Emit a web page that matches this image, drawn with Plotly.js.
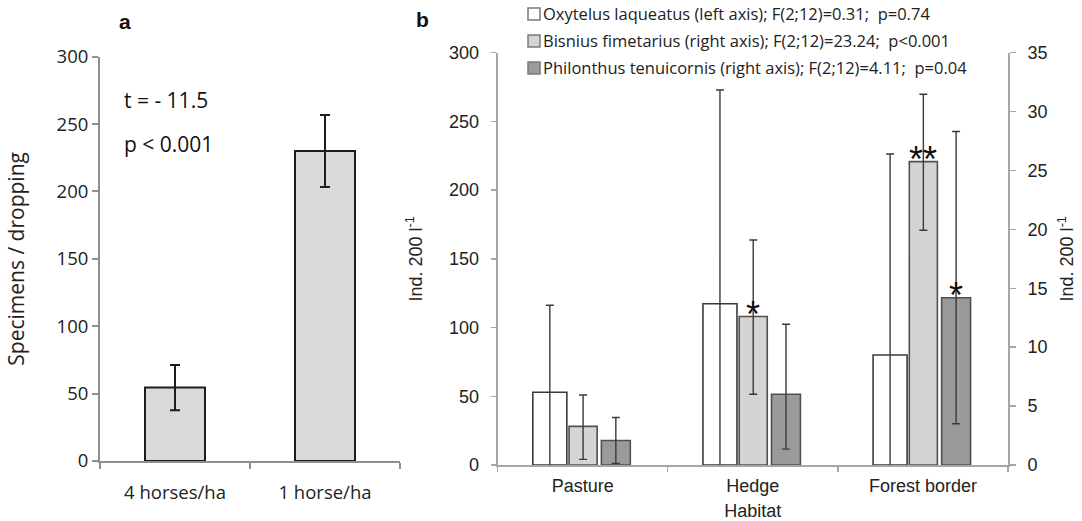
<!DOCTYPE html>
<html>
<head>
<meta charset="utf-8">
<script src="https://cdn.plot.ly/plotly-3.0.1.min.js"></script>
<style>html,body{margin:0;padding:0;background:#fff;}#chart{width:1082px;height:521px;}</style>
</head>
<body>
<div id="chart"></div>
<script>
// ---- Panel a data ----
const aCategories = ["4 horses/ha", "1 horse/ha"];
const aValues = [54.5, 230];
const aErrors = [16.8, 26.7];
const aTickVals = [0, 50, 100, 150, 200, 250, 300];
const aStats = ["t = - 11.5", "p < 0.001"];

// ---- Panel b data ----
const bCategories = ["Pasture", "Hedge", "Forest border"];
const oxytelus = [52.9, 117.3, 80.0];          // left axis
const oxytelusErrPlus = [63.3, 155.5, 146.2];
const oxytelusErrMinus = [63.3, 155.5, 146.2];
const bisnius = [3.28, 12.6, 25.75];           // right axis
const bisniusErrPlus = [2.66, 6.5, 5.72];
const bisniusErrMinus = [2.8, 6.6, 5.83];
const philonthus = [2.08, 6.0, 14.2];          // right axis
const philonthusErrPlus = [1.95, 5.95, 14.1];
const philonthusErrMinus = [1.95, 4.65, 10.7];
const bLegend = [
  "Oxytelus laqueatus (left axis); F(2;12)=0.31;  p=0.74",
  "Bisnius fimetarius (right axis); F(2;12)=23.24;  p<0.001",
  "Philonthus tenuicornis (right axis); F(2;12)=4.11;  p=0.04"
];
const bisniusStars = ["", "*", "**"];
const philonthusStars = ["", "", "*"];

// ---- styles ----
const W = 1082, H = 521;
const px = v => v / W, py = v => (H - v) / H;
const bColors = ["#ffffff", "#d4d4d4", "#9a9a9a"];
const bOffsets = [-0.293, -0.08, 0.11];
const bWidths = [0.2, 0.165, 0.17];
const fontA = "Open Sans, sans-serif";
const fontB = "Liberation Sans, Arial, sans-serif";
const legendRowY = i => 14 + 27 * i;

const traces = [];
traces.push({
  type: "bar", x: aCategories, y: aValues, xaxis: "x", yaxis: "y",
  width: 0.4,
  marker: {color: "#d9d9d9", line: {color: "#1c1c1c", width: 2}},
  error_y: {type: "data", array: aErrors, visible: true, color: "#1c1c1c", thickness: 2, width: 5},
  showlegend: false, hoverinfo: "skip"
});
const bSeries = [
  [oxytelus, oxytelusErrPlus, oxytelusErrMinus, "y2"],
  [bisnius, bisniusErrPlus, bisniusErrMinus, "y3"],
  [philonthus, philonthusErrPlus, philonthusErrMinus, "y3"]
];
bSeries.forEach((s, i) => {
  traces.push({
    type: "bar", x: bCategories, y: s[0], xaxis: "x2", yaxis: s[3],
    offset: bOffsets[i], width: bWidths[i],
    marker: {color: bColors[i], line: {color: i === 0 ? "#3a3a3a" : "#505050", width: 1.6}},
    error_y: {type: "data", symmetric: false, array: s[1], arrayminus: s[2], visible: true,
              color: "#3a3a3a", thickness: 1.4, width: 4},
    showlegend: false, hoverinfo: "skip", cliponaxis: true
  });
});

const annotations = [];
annotations.push({xref: "paper", yref: "paper", x: px(125), y: py(22), text: "<b>a</b>", showarrow: false,
  font: {family: "Liberation Sans, Arial", size: 21, color: "#111"}, xanchor: "center", yanchor: "middle"});
annotations.push({xref: "paper", yref: "paper", x: px(422), y: py(19), text: "<b>b</b>", showarrow: false,
  font: {family: "Liberation Sans, Arial", size: 21, color: "#111"}, xanchor: "center", yanchor: "middle"});
aStats.forEach((t, i) => {
  annotations.push({xref: "paper", yref: "paper", x: px(122), y: py(100 + 44 * i), text: t, showarrow: false,
    font: {family: fontA, size: 21, color: "#111"}, xanchor: "left", yanchor: "middle"});
});
bLegend.forEach((t, i) => {
  annotations.push({xref: "paper", yref: "paper", x: px(541), y: py(legendRowY(i)), text: t, showarrow: false,
    font: {family: fontA, size: 16.5, color: "#222"}, xanchor: "left", yanchor: "middle"});
});
function stars(arr, series, idx) {
  arr.forEach((t, k) => {
    if (!t) return;
    annotations.push({xref: "x2", yref: "y3", x: k + bOffsets[idx] + bWidths[idx] / 2, y: series[k],
      text: t, showarrow: false, font: {family: fontB, size: 36, color: "#111"},
      xanchor: "center", yanchor: "bottom", yshift: -20});
  });
}
stars(bisniusStars, bisnius, 1);
stars(philonthusStars, philonthus, 2);

const shapes = bColors.map((c, i) => ({
  type: "rect", xref: "paper", yref: "paper",
  x0: px(528), x1: px(540), y0: py(legendRowY(i) + 6), y1: py(legendRowY(i) - 6),
  fillcolor: c, line: {color: "#7a7a7a", width: 1.5}
}));

const layout = {
  width: W, height: H,
  margin: {l: 0, r: 0, t: 0, b: 0},
  paper_bgcolor: "#fff", plot_bgcolor: "rgba(0,0,0,0)",
  barmode: "overlay",
  showlegend: false,
  xaxis: {domain: [px(100), px(400)], anchor: "y", type: "category", range: [-0.5, 1.5],
    showline: true, linecolor: "#8f8f8f", linewidth: 2, ticks: "outside", tickson: "boundaries",
    ticklen: 6, tickcolor: "#8f8f8f", tickwidth: 2, showgrid: false, zeroline: false,
    ticklabelstandoff: 14,
    tickfont: {family: fontA, size: 18.5, color: "#222"}, fixedrange: true},
  yaxis: {domain: [(H - 461) / H, (H - 56.7) / H], anchor: "x", range: [0, 300], tickvals: aTickVals,
    showline: true, linecolor: "#8f8f8f", linewidth: 2, ticks: "outside", ticklen: 6,
    tickcolor: "#8f8f8f", tickwidth: 2, showgrid: false, zeroline: false,
    tickfont: {family: fontA, size: 18.5, color: "#222"},
    title: {text: "Specimens / dropping", standoff: 26, font: {family: fontA, size: 21, color: "#222"}}},
  xaxis2: {domain: [px(497.6), px(1008)], anchor: "y2", type: "category", range: [-0.5, 2.5],
    showline: true, linecolor: "#a6a6a6", linewidth: 2, ticks: "outside", tickson: "boundaries",
    ticklen: 5, tickcolor: "#a6a6a6", tickwidth: 1.5, showgrid: false, zeroline: false,
    ticklabelstandoff: 3,
    tickfont: {family: fontB, size: 18, color: "#222"},
    title: {text: "Habitat", standoff: 12, font: {family: fontB, size: 18, color: "#222"}}},
  yaxis2: {domain: [(H - 465) / H, (H - 52.6) / H], anchor: "x2", range: [0, 300], dtick: 50,
    showline: true, linecolor: "#a6a6a6", linewidth: 2, ticks: "outside", ticklen: 5,
    tickcolor: "#a6a6a6", tickwidth: 1.5, showgrid: false, zeroline: false,
    ticklabelstandoff: 8,
    tickfont: {family: fontB, size: 18, color: "#222"},
    title: {text: "Ind. 200 l<sup>-1</sup>", standoff: 22, font: {family: fontB, size: 18, color: "#222"}}},
  yaxis3: {overlaying: "y2", anchor: "x2", side: "right", range: [0, 35], dtick: 5,
    showline: true, linecolor: "#a6a6a6", linewidth: 2, ticks: "outside", ticklen: 6,
    tickcolor: "#a6a6a6", tickwidth: 1.5, showgrid: false, zeroline: false,
    ticklabelstandoff: 8,
    tickfont: {family: fontB, size: 18, color: "#222"},
    title: {text: "Ind. 200 l<sup>-1</sup>", standoff: 14, font: {family: fontB, size: 18, color: "#222"}}},
  annotations: annotations,
  shapes: shapes
};

Plotly.newPlot("chart", traces, layout, {staticPlot: true, displayModeBar: false});
</script>
</body>
</html>
